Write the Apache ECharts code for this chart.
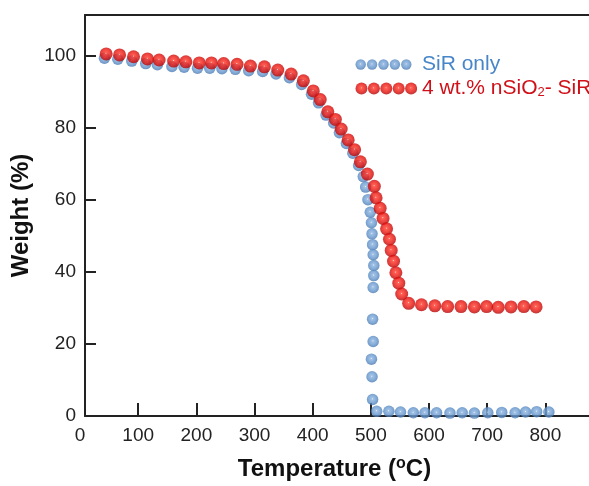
<!DOCTYPE html>
<html>
<head>
<meta charset="utf-8">
<title>TGA SiR</title>
<script src="https://cdn.jsdelivr.net/npm/echarts@6/dist/echarts.min.js"></script>
<style>
  html, body { margin: 0; padding: 0; background: #fff; }
  #tga { width: 589px; height: 486px; }
</style>
</head>
<body>
<div id="tga"></div>
<script>
// temperature (oC) / weight (%)
var sirTemp = [42, 65, 89, 113, 133, 158, 179, 202, 223, 244, 267, 290, 314, 337, 360, 381, 398, 410, 423, 436,
  446, 458, 469, 479, 487, 491, 495, 499, 501, 502, 503, 504, 505, 505, 504, 503, 504, 501, 502, 503,
  510, 531, 551, 573, 593, 613, 636, 657, 678, 701, 725, 748, 766, 785, 806];
var sirWeight = [99.4, 99.1, 98.6, 97.9, 97.6, 97.1, 96.9, 96.6, 96.6, 96.5, 96.3, 95.9, 95.7, 95.0, 94.0, 92.1, 89.4, 87.0, 83.6, 81.4,
  78.7, 75.7, 73.0, 69.6, 66.5, 63.6, 60.1, 56.6, 53.7, 50.6, 47.6, 44.8, 41.8, 39.0, 35.7, 26.9, 20.7, 15.8, 10.9, 4.6,
  1.3, 1.3, 1.1, 0.9, 0.9, 0.9, 0.8, 0.9, 0.8, 0.9, 1.0, 0.9, 1.1, 1.2, 1.1];

var nsioTemp = [45, 68, 92, 116, 136, 161, 182, 205, 226, 247, 270, 293, 317, 340, 363, 384, 401, 413, 426, 439,
  449, 461, 472, 482, 494, 506, 509, 516, 521, 527, 532, 535, 539, 543, 548, 553, 565, 587, 610, 632,
  655, 678, 699, 719, 741, 763, 784];
var nsioWeight = [100.6, 100.3, 99.8, 99.2, 98.9, 98.6, 98.4, 98.1, 98.1, 97.9, 97.7, 97.2, 97.0, 96.1, 95.0, 93.1, 90.3, 87.9, 84.5, 82.4,
  79.7, 76.7, 74.0, 70.6, 67.2, 63.8, 60.6, 57.7, 54.9, 52.0, 49.1, 46.0, 43.0, 39.8, 36.9, 33.9, 31.3, 30.9, 30.6, 30.4,
  30.4, 30.3, 30.4, 30.2, 30.3, 30.4, 30.3];

var xLabels = [0, 100, 200, 300, 400, 500, 600, 700, 800];
var xTicks = [100, 200, 300, 400, 500, 600, 700, 800];
var yLabels = [0, 20, 40, 60, 80, 100];

var seriesNames = ['SiR only', '4 wt.% nSiO2- SiR'];

var FONT = '"Liberation Sans", Arial, sans-serif';
var BLUE_TXT = '#4786c8';
var RED_TXT = '#d01018';

function zip(xs, ys) {
  var out = [];
  for (var i = 0; i < xs.length; i++) out.push([xs[i], ys[i]]);
  return out;
}

function ball(stops) {
  return {
    type: 'radial', x: 0.48, y: 0.45, r: 0.56,
    colorStops: stops.map(function (s) { return { offset: s[0], color: s[1] }; })
  };
}

var blueStops = [[0, '#eef4fb'], [0.14, '#8ab2de'], [0.6, '#6798ce'], [1, '#4677b0']];
var redStops = [[0, '#ffe2da'], [0.12, '#ff3b2b'], [0.6, '#e8130e'], [1, '#ac0404']];

// row of five little spheres for the legend
function ballsIcon(stops, r, step) {
  var st = stops.map(function (s) {
    return '<stop offset="' + s[0] + '" stop-color="' + s[1] + '"/>';
  }).join('');
  var c = '';
  for (var i = 0; i < 5; i++) {
    c += '<circle cx="' + (r + 0.5 + i * step) + '" cy="6.5" r="' + r + '" fill="url(#g)"/>';
  }
  var svg = '<svg xmlns="http://www.w3.org/2000/svg" width="62" height="13">' +
    '<defs><radialGradient id="g" cx="0.48" cy="0.45" r="0.56">' + st + '</radialGradient></defs>' +
    c + '</svg>';
  return 'image://data:image/svg+xml;charset=utf-8,' + encodeURIComponent(svg);
}

var chart = echarts.init(document.getElementById('tga'), null, { renderer: 'canvas' });

var lineOnly = {
  show: true,
  lineStyle: { color: '#222', width: 2 }
};

var option = {
  backgroundColor: '#fff',
  animation: false,
  textStyle: { fontFamily: FONT },
  grid: [
    { left: 80, right: -4, top: 15, bottom: 70 },
    { left: 85, right: -4, top: 15, bottom: 70 }
  ],
  legend: {
    orient: 'vertical',
    left: 350,
    top: 49,
    itemWidth: 62,
    itemHeight: 13,
    itemGap: 3,
    selectedMode: false,
    data: [
      { name: seriesNames[0], icon: ballsIcon(blueStops, 5.2, 11.4) },
      { name: seriesNames[1], icon: ballsIcon(redStops, 6.0, 12.4) }
    ],
    formatter: function (name) {
      if (name === seriesNames[0]) return '{b|SiR only}';
      return '{r|4 wt.% nSiO}{rs|2}{r|- SiR}';
    },
    textStyle: {
      fontFamily: FONT,
      rich: {
        b: { fontSize: 21, lineHeight: 21, color: BLUE_TXT, fontFamily: FONT },
        r: { fontSize: 21, lineHeight: 21, color: RED_TXT, fontFamily: FONT },
        rs: { fontSize: 13, lineHeight: 8, verticalAlign: 'bottom', color: RED_TXT, fontFamily: FONT }
      }
    }
  },
  xAxis: [
    {
      type: 'value',
      gridIndex: 0,
      min: 0,
      max: 875,
      interval: 100,
      name: '{t|Temperature (}{s|o}{t|C)}',
      nameLocation: 'middle',
      nameGap: 40,
      nameTextStyle: {
        rich: {
          t: { fontSize: 24, fontWeight: 'bold', color: '#111', fontFamily: FONT, lineHeight: 26 },
          s: { fontSize: 16, fontWeight: 'bold', color: '#111', fontFamily: FONT, lineHeight: 26, verticalAlign: 'top', padding: [0, 0, 6, 0] }
        }
      },
      axisLine: { show: false },
      axisTick: {
        show: true, inside: true, length: 13,
        customValues: xTicks,
        lineStyle: { color: '#222', width: 2 }
      },
      axisLabel: {
        customValues: xLabels,
        fontSize: 19, color: '#222', margin: 10, fontFamily: FONT
      },
      splitLine: { show: false }
    },
    {
      type: 'value', gridIndex: 1, position: 'bottom', min: 0, max: 1,
      axisLine: lineOnly, axisTick: { show: false }, axisLabel: { show: false }, splitLine: { show: false }
    },
    {
      type: 'value', gridIndex: 1, position: 'top', min: 0, max: 1,
      axisLine: lineOnly, axisTick: { show: false }, axisLabel: { show: false }, splitLine: { show: false }
    }
  ],
  yAxis: [
    {
      type: 'value',
      gridIndex: 0,
      min: 0,
      max: 111.4,
      interval: 20,
      offset: -5,
      name: 'Weight (%)',
      nameLocation: 'middle',
      nameGap: 43,
      nameTextStyle: { fontSize: 24, fontWeight: 'bold', color: '#111', fontFamily: FONT },
      axisLine: { show: false },
      axisTick: {
        show: true, inside: true, length: 11,
        customValues: yLabels,
        lineStyle: { color: '#222', width: 2 }
      },
      axisLabel: {
        customValues: yLabels,
        fontSize: 19, color: '#222', margin: 9, fontFamily: FONT
      },
      splitLine: { show: false }
    },
    {
      type: 'value', gridIndex: 1, min: 0, max: 1,
      axisLine: lineOnly, axisTick: { show: false }, axisLabel: { show: false }, splitLine: { show: false }
    }
  ],
  series: [
    {
      name: seriesNames[0],
      type: 'scatter',
      xAxisIndex: 0,
      yAxisIndex: 0,
      symbol: 'circle',
      symbolSize: 11.5,
      itemStyle: { color: ball(blueStops) },
      data: zip(sirTemp, sirWeight),
      z: 2
    },
    {
      name: seriesNames[1],
      type: 'scatter',
      xAxisIndex: 0,
      yAxisIndex: 0,
      symbol: 'circle',
      symbolSize: 13,
      itemStyle: { color: ball(redStops) },
      data: zip(nsioTemp, nsioWeight),
      z: 3
    }
  ]
};

chart.setOption(option);
window.onresize = chart.resize;
</script>
</body>
</html>
